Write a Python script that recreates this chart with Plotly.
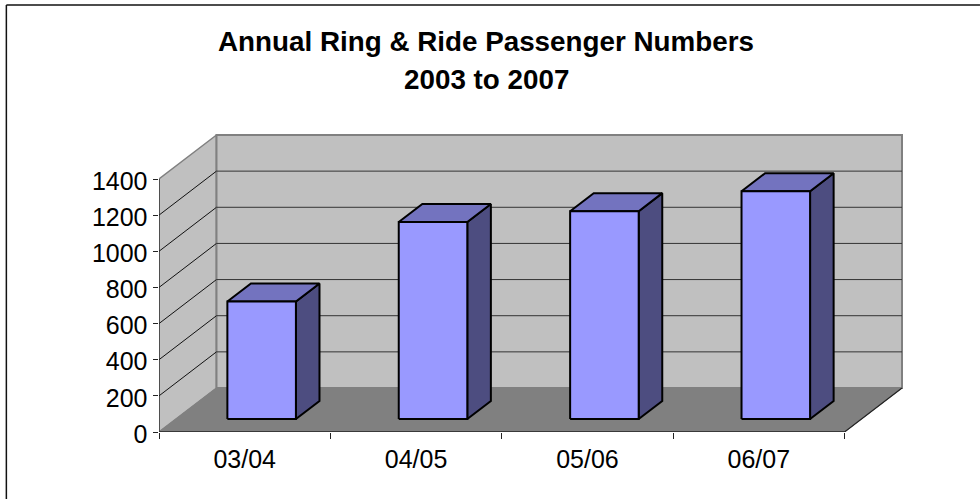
import plotly.graph_objects as go

# ---- data ----
categories = ["03/04", "04/05", "05/06", "06/07"]
passengers = [650, 1090, 1150, 1260]
y_ticks = [0, 200, 400, 600, 800, 1000, 1200, 1400]
title_lines = ["Annual Ring &amp; Ride Passenger Numbers", "2003 to 2007"]

# ---- layout geometry (pixels) ----
W, H = 980, 499
AX_L, AX_R, AX_B, AX_T = 158.7, 844.5, 432.0, 179.0
PLOT_R, PLOT_T = 912.0, 128.0
DX, DY = 57.5, 44.0          # oblique depth offset of the 3-D box
GAP = 0.6                    # bar gap as fraction of the category
BAR_D0, BAR_D1 = 0.295, 0.705

n = len(categories)
top_val = y_ticks[-1]
px_per_cat = (AX_R - AX_L) / n
px_per_val = (AX_B - AX_T) / top_val


def P(cat, val, depth=0.0):
    """Oblique projection into data coordinates."""
    return cat + depth * DX / px_per_cat, val + depth * DY / px_per_val


fig = go.Figure()


def poly(points, fill=None, line="#000000", width=1.0, closed=True, name=None, hover=False):
    pts = list(points)
    if closed:
        pts.append(pts[0])
    xs, ys = zip(*pts)
    fig.add_trace(go.Scatter(
        x=xs, y=ys, mode="lines",
        fill="toself" if fill else None, fillcolor=fill,
        line=dict(color=line, width=width),
        showlegend=False, cliponaxis=False,
        hoverinfo="text" if hover else "skip", text=name, name=name or "",
    ))


WALL, FLOOR, EDGE = "#C0C0C0", "#808080", "#808080"
FRONT, TOP, SIDE = "#9999FF", "#7373BF", "#4D4D80"

# walls and floor
poly([P(0, 0), P(0, top_val), P(0, top_val, 1), P(0, 0, 1)], WALL, EDGE, 1.5)
poly([P(0, 0, 1), P(0, top_val, 1), P(n, top_val, 1), P(n, 0, 1)], WALL, EDGE, 2)
poly([P(0, 0), P(n, 0), P(n, 0, 1), P(0, 0, 1)], FLOOR, FLOOR, 1)
poly([P(n, 0), P(n, 0, 1)], None, "#222222", 1.2, closed=False)

# gridlines on left and back walls
for v in y_ticks[1:-1]:
    poly([P(0, v), P(0, v, 1)], None, "#111111", 1, closed=False)
    poly([P(0, v, 1), P(n, v, 1)], None, "#333333", 1, closed=False)

# bars
for i, (c, v) in enumerate(zip(categories, passengers)):
    l, r = i + GAP / 2, i + 1 - GAP / 2
    label = f"{c}: {v}"
    poly([P(r, 0, BAR_D0), P(r, 0, BAR_D1), P(r, v, BAR_D1), P(r, v, BAR_D0)], SIDE, "#000000", 2)
    poly([P(l, v, BAR_D0), P(r, v, BAR_D0), P(r, v, BAR_D1), P(l, v, BAR_D1)], TOP, "#000000", 2)
    poly([P(l, 0, BAR_D0), P(r, 0, BAR_D0), P(r, v, BAR_D0), P(l, v, BAR_D0)], FRONT, "#000000", 2,
         name=label, hover=True)

# front axis lines
poly([P(0, 0), P(0, top_val)], None, "#222222", 1.2, closed=False)
poly([P(0, 0), P(n, 0)], None, "#222222", 1.5, closed=False)

TICK_FONT = dict(family="Liberation Sans, Arial, sans-serif", size=25, color="#000000")
TITLE_FONT = dict(family="Liberation Sans, Arial, sans-serif", size=27.8, color="#000000")


def xp(px):
    return (px - AX_L) / (PLOT_R - AX_L)


def yp(py):
    return (AX_B - py) / (AX_B - PLOT_T)


fig.update_layout(
    width=W, height=H,
    margin=dict(l=AX_L, r=W - PLOT_R, t=PLOT_T, b=H - AX_B, autoexpand=False, pad=0),
    paper_bgcolor="#FFFFFF", plot_bgcolor="rgba(0,0,0,0)",
    showlegend=False,
    xaxis=dict(
        range=[0, (PLOT_R - AX_L) / px_per_cat],
        tickmode="array",
        tickvals=[i + 0.5 for i in range(n)], ticktext=categories,
        ticks="", showgrid=False, zeroline=False, showline=False,
        tickfont=TICK_FONT, ticklabelstandoff=10,
        minor=dict(tickmode="array", tickvals=list(range(n + 1)), ticks="outside",
                   ticklen=6, tickwidth=1, tickcolor="#222222", showgrid=False),
    ),
    yaxis=dict(
        range=[0, (AX_B - PLOT_T) / px_per_val],
        tickmode="array", tickvals=y_ticks, ticktext=[str(v) for v in y_ticks],
        ticks="outside", ticklen=5.5, tickwidth=1, tickcolor="#222222",
        showgrid=False, zeroline=False, showline=False,
        tickfont=TICK_FONT, ticklabelshift=2,
    ),
    shapes=[
        dict(type="line", xref="paper", yref="paper", x0=xp(6), x1=xp(980), y0=yp(5), y1=yp(5),
             line=dict(color="#111111", width=1.5)),
        dict(type="line", xref="paper", yref="paper", x0=xp(6), x1=xp(6), y0=yp(5), y1=yp(499),
             line=dict(color="#111111", width=1.5)),
    ],
    annotations=[
        dict(text=f"<b>{title_lines[0]}</b>", xref="paper", yref="paper", x=xp(486), y=yp(41),
             showarrow=False, xanchor="center", yanchor="middle", font=TITLE_FONT),
        dict(text=f"<b>{title_lines[1]}</b>", xref="paper", yref="paper", x=xp(486), y=yp(80),
             showarrow=False, xanchor="center", yanchor="middle", font=TITLE_FONT),
    ],
)

fig.write_html("out.html", config=dict(displayModeBar=False),
               post_script="document.body.style.margin='0';document.documentElement.style.overflow='hidden';")
